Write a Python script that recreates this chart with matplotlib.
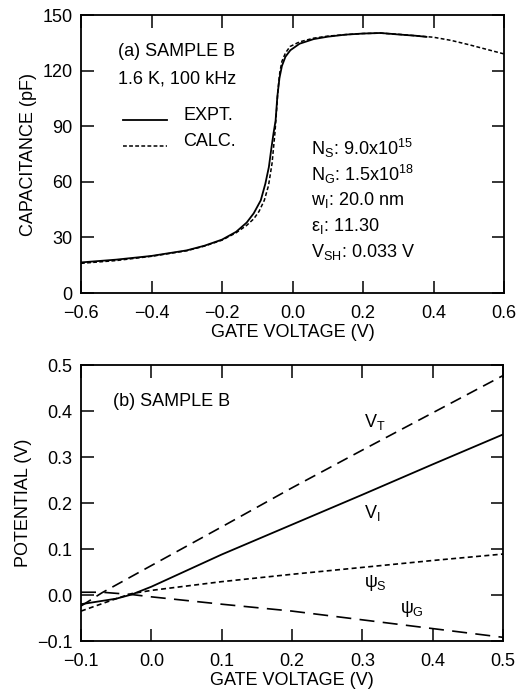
import matplotlib
matplotlib.use("Agg")
import matplotlib.pyplot as plt

plt.rcParams["font.family"] = ["Liberation Sans", "DejaVu Sans"]
plt.rcParams["mathtext.fontset"] = "custom"
plt.rcParams["mathtext.rm"] = "Liberation Sans"
plt.rcParams["mathtext.it"] = "Liberation Sans"

# === panel (a): C-V, sample B ===
v_expt = [-0.6, -0.5, -0.4, -0.3, -0.25, -0.2, -0.16, -0.13, -0.11, -0.09, -0.077,
          -0.067, -0.060, -0.054, -0.048, -0.043, -0.037, -0.030, -0.020, -0.006,
          0.02, 0.06, 0.1, 0.15, 0.2, 0.25, 0.3, 0.35, 0.38]
c_expt = [16.5, 18, 20, 23, 25.5, 28.8, 33, 38, 43, 50, 59,
          68, 78, 86, 93, 106, 116, 122.5, 127.5, 131,
          134.5, 137, 138.3, 139.4, 140, 140.3, 139.5, 138.8, 138.2]

v_calc = [-0.6, -0.5, -0.4, -0.3, -0.25, -0.2, -0.16, -0.13, -0.11, -0.095, -0.08,
          -0.068, -0.058, -0.050, -0.045, -0.041, -0.036, -0.030, -0.020, -0.007,
          0.02, 0.06, 0.1, 0.15, 0.2, 0.25, 0.3, 0.35, 0.4, 0.45, 0.5, 0.55, 0.6]
c_calc = [16, 17.5, 19.8, 22.8, 25.3, 28.5, 32.5, 36.5, 40, 44, 50,
          58, 70, 86, 99, 110, 119, 125, 129.5, 133,
          135.5, 137.5, 138.6, 139.4, 140, 140.2, 139.6, 138.8, 138, 136.3, 134, 131.5, 129]

# === panel (b): potentials vs gate voltage ===
vg_t = [-0.1, -0.07, 0.0, 0.1, 0.2, 0.3, 0.4, 0.5]
v_t = [-0.024, 0.005, 0.064, 0.148, 0.233, 0.315, 0.396, 0.477]
vg_i = [-0.1, -0.05, -0.028, 0.0, 0.1, 0.2, 0.3, 0.4, 0.5]
v_i = [-0.02, -0.008, 0.001, 0.018, 0.088, 0.153, 0.218, 0.284, 0.349]
vg_s = [-0.1, -0.05, -0.028, 0.0, 0.1, 0.2, 0.3, 0.4, 0.5]
psi_s = [-0.035, -0.008, 0.003, 0.01, 0.029, 0.045, 0.06, 0.075, 0.089]
vg_g = [-0.1, -0.07, -0.028, 0.0, 0.1, 0.2, 0.3, 0.4, 0.5]
psi_g = [0.006, 0.006, 0.001, -0.004, -0.02, -0.035, -0.054, -0.073, -0.092]

fs = 13
lw = 1.3

fig = plt.figure(figsize=(5.16, 6.94), dpi=100)
ax1 = fig.add_axes([81 / 516, 1 - 293 / 694, 423 / 516, 278 / 694])
ax2 = fig.add_axes([81 / 516, 1 - 641 / 694, 422 / 516, 276 / 694])

for ax in (ax1, ax2):
    ax.tick_params(direction="in", length=9, width=1.1, top=True, right=True,
                   labelsize=fs)
    ax.tick_params(axis="x", pad=9)
    ax.tick_params(axis="y", pad=6)
    for s in ax.spines.values():
        s.set_linewidth(1.3)

# (a)
ax1.plot(v_expt, c_expt, color="black", lw=lw)
ax1.plot(v_calc, c_calc, color="black", lw=1.1, dashes=(2.5, 1.5))
ax1.set_xlim(-0.6, 0.6)
ax1.set_ylim(0, 150)
ax1.set_xticks([-0.6, -0.4, -0.2, 0.0, 0.2, 0.4, 0.6])
ax1.set_xticklabels(["\u22120.6", "\u22120.4", "\u22120.2", "0.0", "0.2", "0.4", "0.6"])
ax1.set_yticks([0, 30, 60, 90, 120, 150])
ax1.set_xlabel("GATE VOLTAGE (V)", fontsize=fs, labelpad=1)
ax1.set_ylabel("CAPACITANCE (pF)", fontsize=fs, labelpad=4)

ax1.text(-0.495, 130.5, "(a) SAMPLE B", fontsize=fs, va="center")
ax1.text(-0.495, 115.5, "1.6 K, 100 kHz", fontsize=fs, va="center")
ax1.plot([-0.48, -0.355], [93.5, 93.5], color="black", lw=lw)
ax1.plot([-0.48, -0.355], [79.5, 79.5], color="black", lw=1.1, dashes=(2.5, 1.5))
ax1.text(-0.31, 96, "EXPT.", fontsize=fs, va="center")
ax1.text(-0.31, 81.5, "CALC.", fontsize=fs, va="center")

params = [r"N$_\mathrm{S}$: 9.0x10$^{15}$",
          r"N$_\mathrm{G}$: 1.5x10$^{18}$",
          r"w$_\mathrm{I}$: 20.0 nm",
          r"$\epsilon_\mathrm{I}$: 11.30",
          r"V$_\mathrm{SH}$: 0.033 V"]
params_y = [78, 64, 50, 36, 22]
for txt, y in zip(params, params_y):
    ax1.text(0.053, y, txt, fontsize=fs, va="center")

# (b)
ax2.plot(vg_t, v_t, color="black", lw=1.2, dashes=(7, 4))
ax2.plot(vg_i, v_i, color="black", lw=lw)
ax2.plot(vg_s, psi_s, color="black", lw=1.2, dashes=(3, 2))
ax2.plot(vg_g, psi_g, color="black", lw=1.2, dashes=(9, 5))
ax2.set_xlim(-0.1, 0.5)
ax2.set_ylim(-0.1, 0.5)
ax2.set_xticks([-0.1, 0.0, 0.1, 0.2, 0.3, 0.4, 0.5])
ax2.set_xticklabels(["\u22120.1", "0.0", "0.1", "0.2", "0.3", "0.4", "0.5"])
ax2.set_yticks([-0.1, 0.0, 0.1, 0.2, 0.3, 0.4, 0.5])
ax2.set_yticklabels(["\u22120.1", "0.0", "0.1", "0.2", "0.3", "0.4", "0.5"])
ax2.set_xlabel("GATE VOLTAGE (V)", fontsize=fs, labelpad=1)
ax2.set_ylabel("POTENTIAL (V)", fontsize=fs, labelpad=4)

ax2.text(-0.054, 0.42, "(b) SAMPLE B", fontsize=fs, va="center")
ax2.text(0.303, 0.376, r"V$_\mathrm{T}$", fontsize=fs, va="center")
ax2.text(0.303, 0.178, r"V$_\mathrm{I}$", fontsize=fs, va="center")
ax2.text(0.303, 0.027, r"$\psi_\mathrm{S}$", fontsize=fs, va="center")
ax2.text(0.353, -0.031, r"$\psi_\mathrm{G}$", fontsize=fs, va="center")

fig.savefig("out.png", dpi=100)
